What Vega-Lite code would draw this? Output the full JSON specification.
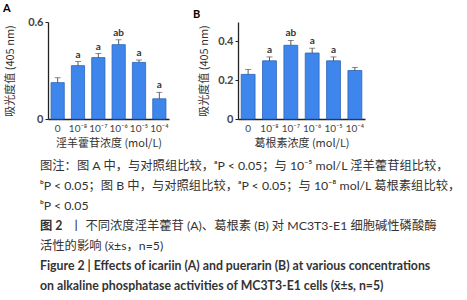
{
  "$schema": "https://vega.github.io/schema/vega-lite/v6.json",
  "padding": {"left": 3, "top": 3, "right": 0, "bottom": 0},
  "background": "white",
  "config": {
    "font": "Lato, Noto Sans CJK SC",
    "view": {"stroke": null},
    "axis": {"grid": false, "domainColor": "#222", "domainWidth": 1.3, "tickColor": "#222", "labelColor": "#444", "titleColor": "#333", "labelFont": "Lato", "titleFont": "Noto Sans CJK SC", "titleFontWeight": "normal", "labelOverlap": false, "labelBound": false},
    "concat": {"spacing": 8}
  },
  "datasets": {
    "A": [
      {"conc": "0", "mean": 0.225, "upper": 0.255, "sig": ""},
      {"conc": "10⁻⁸", "mean": 0.33, "upper": 0.355, "sig": "a"},
      {"conc": "10⁻⁷", "mean": 0.38, "upper": 0.405, "sig": "a"},
      {"conc": "10⁻⁶", "mean": 0.46, "upper": 0.49, "sig": "ab"},
      {"conc": "10⁻⁵", "mean": 0.35, "upper": 0.365, "sig": "a"},
      {"conc": "10⁻⁴", "mean": 0.125, "upper": 0.165, "sig": "a"}
    ],
    "B": [
      {"conc": "0", "mean": 0.23, "upper": 0.255, "sig": ""},
      {"conc": "10⁻⁸", "mean": 0.3, "upper": 0.32, "sig": "a"},
      {"conc": "10⁻⁷", "mean": 0.38, "upper": 0.405, "sig": "ab"},
      {"conc": "10⁻⁶", "mean": 0.34, "upper": 0.365, "sig": "a"},
      {"conc": "10⁻⁵", "mean": 0.3, "upper": 0.32, "sig": "a"},
      {"conc": "10⁻⁴", "mean": 0.25, "upper": 0.265, "sig": ""}
    ],
    "caption": [
      {"line": 1, "col": 0, "kind": "regular", "text": "图注：图 A 中，与对照组比较，ᵃP < 0.05；与 10⁻⁵ mol/L 淫羊藿苷组比较，"},
      {"line": 2, "col": 0, "kind": "regular", "text": "ᵇP < 0.05；图 B 中，与对照组比较，ᵃP < 0.05；与 10⁻⁸ mol/L 葛根素组比较，"},
      {"line": 3, "col": 0, "kind": "regular", "text": "ᵇP < 0.05"},
      {"line": 4, "col": 0, "kind": "bold", "text": "图 2"},
      {"line": 4, "col": 0, "kind": "rest", "text": "丨 不同浓度淫羊藿苷 (A)、葛根素 (B) 对 MC3T3-E1 细胞碱性磷酸酶"},
      {"line": 5, "col": 0, "kind": "regular", "text": "活性的影响 (x̄±s，n=5)"},
      {"line": 6, "col": 0, "kind": "bold", "text": "Figure 2  |  Effects of icariin (A) and puerarin (B) at various concentrations"},
      {"line": 7, "col": 0, "kind": "bold", "text": "on alkaline phosphatase activities of MC3T3-E1 cells (x̄±s, n=5)"}
    ]
  },
  "vconcat": [
    {
      "hconcat": [
        {
          "width": 121, "height": 97,
          "data": {"name": "A"},
          "title": {"text": "A", "anchor": "start", "frame": "group", "dx": -45, "fontSize": 11, "fontWeight": "bold", "font": "Lato", "offset": 2},
          "encoding": {
            "x": {"field": "conc", "type": "ordinal", "sort": null,
                  "scale": {"paddingInner": 0.35, "paddingOuter": 0.15},
                  "axis": {"title": "淫羊藿苷浓度 (mol/L)", "labelAngle": 0, "ticks": false, "labelFontSize": 10, "labelPadding": 4, "titleFontSize": 11, "titlePadding": 4}}
          },
          "layer": [
            {"mark": {"type": "bar", "color": "#3f86ec", "stroke": "#2b63bd", "strokeWidth": 0.8},
             "encoding": {"y": {"field": "mean", "type": "quantitative", "scale": {"domain": [0, 0.6]},
               "axis": {"title": "吸光度值 (405 nm)", "values": [0, 0.2, 0.4, 0.6], "format": ".1~f", "tickSize": 3, "labelFontSize": 11, "labelFontWeight": "bold", "titleFontSize": 11, "titlePadding": 12}}}},
            {"mark": {"type": "rule", "color": "#333", "strokeWidth": 0.8},
             "encoding": {"y": {"field": "mean", "type": "quantitative", "title": "吸光度值 (405 nm)"}, "y2": {"field": "upper"}}},
            {"mark": {"type": "tick", "color": "#333", "size": 6, "thickness": 0.8},
             "encoding": {"y": {"field": "upper", "type": "quantitative", "title": "吸光度值 (405 nm)"}}},
            {"mark": {"type": "text", "baseline": "bottom", "dy": -2, "fontSize": 10, "fontWeight": "bold", "color": "#333", "font": "Lato"},
             "encoding": {"y": {"field": "upper", "type": "quantitative", "title": "吸光度值 (405 nm)"}, "text": {"field": "sig"}}}
          ]
        },
        {
          "width": 127, "height": 97,
          "data": {"name": "B"},
          "title": {"text": "B", "anchor": "start", "frame": "group", "dx": -45, "fontSize": 11, "fontWeight": "bold", "font": "Lato", "offset": 2},
          "encoding": {
            "x": {"field": "conc", "type": "ordinal", "sort": null,
                  "scale": {"paddingInner": 0.35, "paddingOuter": 0.15},
                  "axis": {"title": "葛根素浓度 (mol/L)", "labelAngle": 0, "ticks": false, "labelFontSize": 10, "labelPadding": 4, "titleFontSize": 11, "titlePadding": 4}}
          },
          "layer": [
            {"mark": {"type": "bar", "color": "#3f86ec", "stroke": "#2b63bd", "strokeWidth": 0.8},
             "encoding": {"y": {"field": "mean", "type": "quantitative", "scale": {"domain": [0, 0.5]},
               "axis": {"title": "吸光度值 (405 nm)", "values": [0, 0.1, 0.2, 0.3, 0.4, 0.5], "format": ".1~f", "tickSize": 3, "labelFontSize": 11, "labelFontWeight": "bold", "titleFontSize": 11, "titlePadding": 8}}}},
            {"mark": {"type": "rule", "color": "#333", "strokeWidth": 0.8},
             "encoding": {"y": {"field": "mean", "type": "quantitative", "title": "吸光度值 (405 nm)"}, "y2": {"field": "upper"}}},
            {"mark": {"type": "tick", "color": "#333", "size": 6, "thickness": 0.8},
             "encoding": {"y": {"field": "upper", "type": "quantitative", "title": "吸光度值 (405 nm)"}}},
            {"mark": {"type": "text", "baseline": "bottom", "dy": -2, "fontSize": 10, "fontWeight": "bold", "color": "#333", "font": "Lato"},
             "encoding": {"y": {"field": "upper", "type": "quantitative", "title": "吸光度值 (405 nm)"}, "text": {"field": "sig"}}}
          ]
        }
      ],
      "spacing": 24
    },
    {
      "width": 455, "height": 140,
      "data": {"name": "caption"},
      "encoding": {
        "x": {"field": "col", "type": "quantitative", "scale": {"domain": [0, 1]}, "axis": null},
        "y": {"field": "line", "type": "ordinal", "scale": {"type": "point", "padding": 0.5}, "axis": null}
      },
      "layer": [
        {"transform": [{"filter": "datum.kind === 'regular'"}],
         "mark": {"type": "text", "align": "left", "baseline": "middle", "dx": -8, "fontSize": 12.3, "color": "#333", "font": "Lato, Noto Sans CJK SC"},
         "encoding": {"text": {"field": "text"}}},
        {"transform": [{"filter": "datum.kind === 'bold'"}],
         "mark": {"type": "text", "align": "left", "baseline": "middle", "dx": -8, "fontSize": 12.3, "fontWeight": "bold", "color": "#333", "font": "Lato, Noto Sans CJK SC"},
         "encoding": {"text": {"field": "text"}}},
        {"transform": [{"filter": "datum.kind === 'rest'"}],
         "mark": {"type": "text", "align": "left", "baseline": "middle", "dx": 22, "fontSize": 12.3, "color": "#333", "font": "Lato, Noto Sans CJK SC"},
         "encoding": {"text": {"field": "text"}}}
      ]
    }
  ]
}
